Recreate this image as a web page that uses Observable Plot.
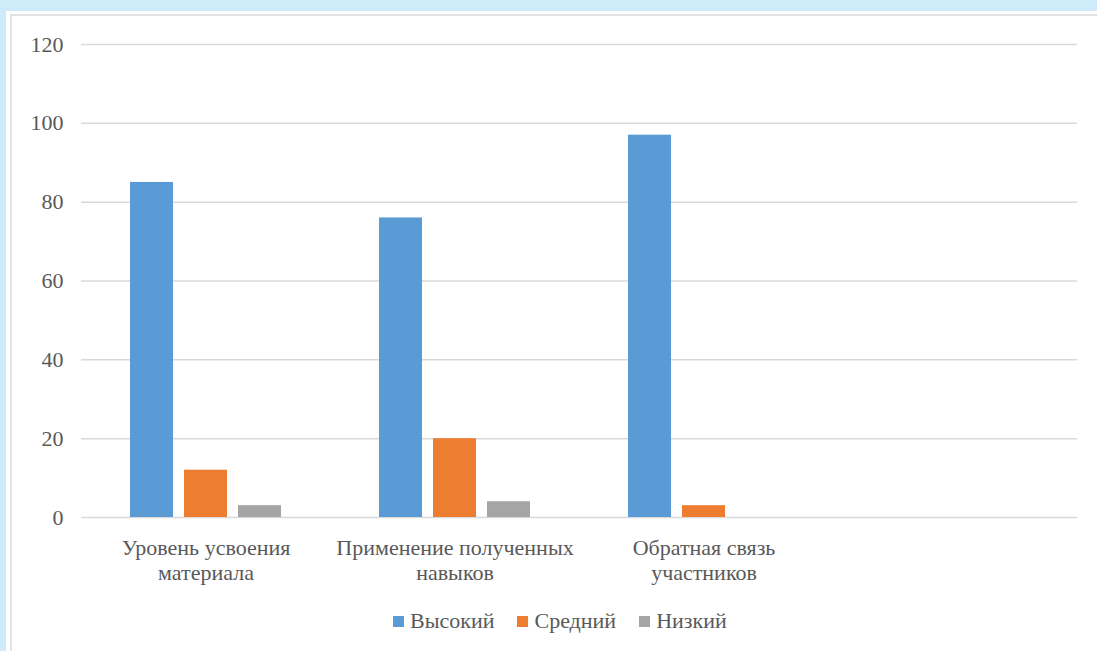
<!DOCTYPE html>
<html>
<head>
<meta charset="utf-8">
<script src="https://cdn.jsdelivr.net/npm/d3@7"></script>
<script src="https://cdn.jsdelivr.net/npm/@observablehq/plot@0.6"></script>
<style>
  html, body { margin: 0; padding: 0; }
  body {
    width: 1097px; height: 651px; overflow: hidden; position: relative;
    background: #cdebf8;
    font-family: "Liberation Serif", "Times New Roman", serif;
  }
  #sheet { position: absolute; left: 6px; top: 11px; width: 1200px; height: 800px; background: #fff; }
  #frame { position: absolute; left: 10px; top: 14px; width: 1200px; height: 800px;
           border-left: 2px solid #e3e3e3; border-top: 2px solid #e3e3e3; }
  #chart { position: absolute; left: 0; top: 0; }
  #legend { position: absolute; left: 393px; top: 608px; display: flex; align-items: center;
            font-size: 22px; color: #595959; white-space: nowrap; }
  #legend .item { display: flex; align-items: center; margin-right: 23px; }
  #legend .sw { width: 11px; height: 11px; margin-right: 6px; }
</style>
</head>
<body>
<div id="sheet"></div>
<div id="frame"></div>
<div id="chart"></div>
<div id="legend"></div>
<script>
// Survey results by criterion, share of participants (%)
const categories = ["Уровень усвоения\nматериала", "Применение полученных\nнавыков", "Обратная связь\nучастников", " "];
const series = ["Высокий", "Средний", "Низкий"];
const high = [85, 76, 97];
const mid = [12, 20, 3];
const low = [3, 4, 0];
const colors = ["#5b9bd5", "#ed7d31", "#a5a5a5"];
const yTicks = [0, 20, 40, 60, 80, 100, 120];

const values = [high, mid, low];
const rows = [];
categories.slice(0, 3).forEach((c, i) => {
  series.forEach((s, j) => rows.push({category: c, series: s, value: values[j][i]}));
});
// gridlines repeated in every category band, including the empty last one
const grid = categories.flatMap(c => yTicks.map(v => ({category: c, value: v})));

const font = "'Liberation Serif', 'Times New Roman', serif";
const chart = Plot.plot({
  width: 1097,
  height: 600,
  marginLeft: 80,
  marginRight: 20,
  marginTop: 44,
  marginBottom: 83,
  style: {background: "transparent", fontFamily: font, fontSize: "22px", color: "#595959"},
  fx: {domain: categories, padding: 0, label: null, axis: null},
  x: {domain: series, paddingInner: 0.2, paddingOuter: 0.866, axis: null},
  y: {domain: [0, 120], axis: null},
  color: {domain: series, range: colors},
  marks: [
    Plot.ruleY(grid, {fx: "category", y: "value", stroke: "#d9d9d9", strokeWidth: 1.5}),
    Plot.barY(rows, {fx: "category", x: "series", y: "value", fill: "series"}),
    Plot.axisY({ticks: yTicks, tickSize: 0, tickPadding: 18, label: null, fontSize: 22, fill: "#595959"}),
    Plot.axisFx({anchor: "bottom", tickSize: 0, tickPadding: 20, label: null, lineHeight: 1.14, fontSize: 22, fill: "#595959"})
  ]
});
document.getElementById("chart").appendChild(chart);

const legend = document.getElementById("legend");
series.forEach((s, i) => {
  const item = document.createElement("div");
  item.className = "item";
  const sw = document.createElement("span");
  sw.className = "sw";
  sw.style.background = colors[i];
  const label = document.createElement("span");
  label.textContent = s;
  item.appendChild(sw);
  item.appendChild(label);
  legend.appendChild(item);
});
</script>
</body>
</html>
